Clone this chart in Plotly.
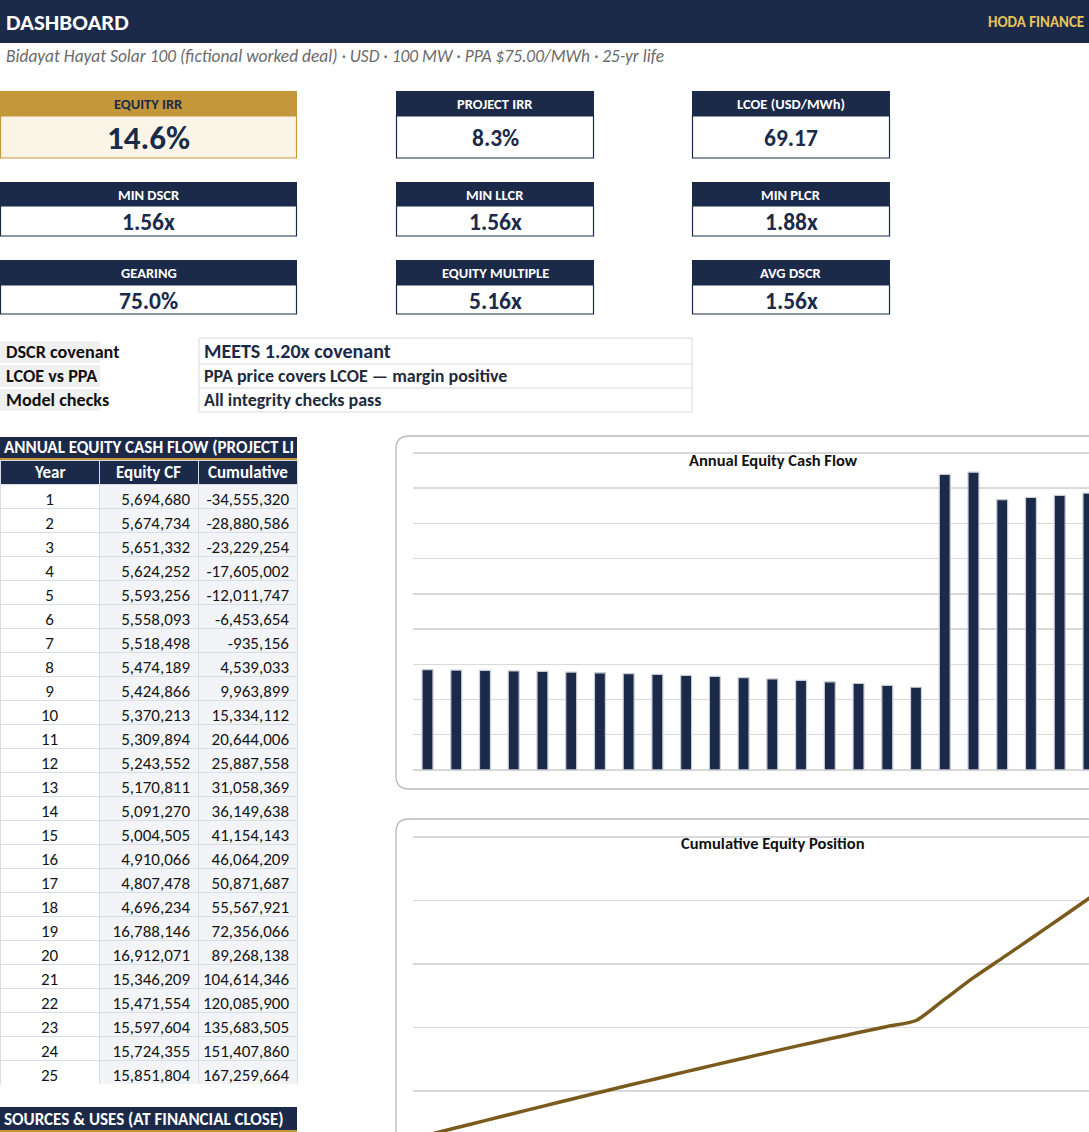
# dashboard recreation: KPI cards, status block, equity cash flow table and two charts

import plotly.graph_objects as go

W, H = 1089, 1132
NAVY = "#1c2a4a"
GOLD = "#c4973b"
GOLD_TEXT = "#e8c35a"
LINE_GOLD = "#7b5b1d"
FONT = "Carlito, Calibri, Roboto, sans-serif"

subtitle = "Bidayat Hayat Solar 100 (fictional worked deal) · USD · 100 MW · PPA $75.00/MWh · 25-yr life"

kpi_labels = ["EQUITY IRR", "PROJECT IRR", "LCOE (USD/MWh)",
              "MIN DSCR", "MIN LLCR", "MIN PLCR",
              "GEARING", "EQUITY MULTIPLE", "AVG DSCR"]
kpi_values = ["14.6%", "8.3%", "69.17",
              "1.56x", "1.56x", "1.88x",
              "75.0%", "5.16x", "1.56x"]

status_labels = ["DSCR covenant", "LCOE vs PPA", "Model checks"]
status_texts = ["MEETS 1.20x covenant",
                "PPA price covers LCOE — margin positive",
                "All integrity checks pass"]

years = list(range(1, 26))
equity_cf = [5694680, 5674734, 5651332, 5624252, 5593256, 5558093, 5518498, 5474189,
             5424866, 5370213, 5309894, 5243552, 5170811, 5091270, 5004505, 4910066,
             4807478, 4696234, 16788146, 16912071, 15346209, 15471554, 15597604,
             15724355, 15851804]
cumulative = [-34555320, -28880586, -23229254, -17605002, -12011747, -6453654, -935156,
              4539033, 9963899, 15334112, 20644006, 25887558, 31058369, 36149638,
              41154143, 46064209, 50871687, 55567921, 72356066, 89268138, 104614346,
              120085900, 135683505, 151407860, 167259664]
table_headers = ["Year", "Equity CF", "Cumulative"]


def px(x):
    return x / W


def py(y):
    return 1 - y / H


shapes = []
annotations = []


def rect(x0, y0, x1, y1, fill, line=None, lw=1):
    shapes.append(dict(type="rect", xref="paper", yref="paper",
                       x0=px(x0), x1=px(x1), y0=py(y1), y1=py(y0),
                       fillcolor=fill, line=dict(color=line or fill, width=lw if line else 0),
                       layer="below"))


def text(x, y, s, size, color, anchor="left", bold=False, italic=False):
    if bold:
        s = f"<b>{s}</b>"
    if italic:
        s = f"<i>{s}</i>"
    annotations.append(dict(x=px(x), y=py(y), xref="paper", yref="paper", text=s,
                            showarrow=False, xanchor=anchor, yanchor="middle",
                            font=dict(family=FONT, size=size, color=color)))


def rounded(x0, y0, x1, y1, r):
    pts = [
        ("M", x0 + r, y0), ("L", x1 - r, y0), ("Q", x1, y0, x1, y0 + r),
        ("L", x1, y1 - r), ("Q", x1, y1, x1 - r, y1), ("L", x0 + r, y1),
        ("Q", x0, y1, x0, y1 - r), ("L", x0, y0 + r), ("Q", x0, y0, x0 + r, y0),
    ]
    out = []
    for p in pts:
        coords = p[1:]
        vals = []
        for i in range(0, len(coords), 2):
            vals.append(f"{px(coords[i]):.5f},{py(coords[i + 1]):.5f}")
        out.append(p[0] + " ".join(vals))
    path = " ".join(out) + " Z"
    shapes.append(dict(type="path", xref="paper", yref="paper", path=path,
                       line=dict(color="#b8b8b8", width=1.3), fillcolor="rgba(0,0,0,0)",
                       layer="below"))


# header band
rect(0, 0, W, 43, NAVY)
text(4, 22, "DASHBOARD", 23, "white", bold=True)
text(1086, 22, "HODA FINANCE", 15, GOLD_TEXT, anchor="right", bold=True)
text(4, 56, subtitle, 17.4, "#6b6b6b", italic=True)

# KPI cards
col_x = [(0, 297), (396, 594), (692, 890)]
row_y = [(91, 116, 158), (182, 206, 236), (260, 285, 314)]
for i, (lab, val) in enumerate(zip(kpi_labels, kpi_values)):
    cx0, cx1 = col_x[i % 3]
    hy0, hy1, vy1 = row_y[i // 3]
    first = i == 0
    rect(cx0, hy0, cx1, hy1, GOLD if first else NAVY)
    rect(cx0 + 0.5, hy1, cx1 - 0.5, vy1, "#fbf5e8" if first else "white",
         line=GOLD if first else NAVY, lw=1.2)
    text((cx0 + cx1) / 2, (hy0 + hy1) / 2 + 0.5, lab, 14.5,
         NAVY if first else "white", anchor="center", bold=True)
    text((cx0 + cx1) / 2, (hy1 + vy1) / 2 + 1, val, 33 if first else 23.5,
         NAVY, anchor="center", bold=True)

# status block
status_y = [340, 364, 388, 412]
rect(199, 338, 692, 412, "white", line="#d9d9d9", lw=1)
for j, (lab, msg) in enumerate(zip(status_labels, status_texts)):
    y0, y1 = status_y[j], status_y[j + 1]
    rect(0, y0 + 1, 100, y1 - 1, "#f0f0f0")
    if j > 0:
        shapes.append(dict(type="line", xref="paper", yref="paper", x0=px(199), x1=px(692),
                           y0=py(y0), y1=py(y0), line=dict(color="#d9d9d9", width=1)))
    text(4, (y0 + y1) / 2, lab, 18.2, "#111111", bold=True)
    text(202, (y0 + y1) / 2 - (1 if j == 0 else 0), msg, 20 if j == 0 else 18,
         NAVY if j == 0 else "#1e2b3c", bold=True)

# table title bars
rect(0, 437, 297, 458, NAVY)
rect(0, 458, 297, 460, GOLD)
text(2, 448, "ANNUAL EQUITY CASH FLOW (PROJECT LI", 17, "white", bold=True)
rect(0, 1107, 297, 1130, NAVY)
rect(0, 1130, 297, 1132, GOLD)
text(2, 1119, "SOURCES &amp; USES (AT FINANCIAL CLOSE)", 17, "white", bold=True)

# table header labels sit centred on the navy header row of the table below
for k, h in enumerate(table_headers):
    text(99 * k + 49.5, 472, h, 17, "white", anchor="center", bold=True)

# chart frames and titles
rounded(396, 436, 1160, 789, 13)
rounded(396, 819, 1160, 1200, 13)
text(773, 460, "Annual Equity Cash Flow", 16.5, "#111111", anchor="center", bold=True)
text(773, 843, "Cumulative Equity Position", 16.5, "#111111", anchor="center", bold=True)

fig = go.Figure()

fig.add_trace(go.Table(
    domain=dict(x=[0, px(297)], y=[py(1084), py(460)]),
    columnwidth=[99, 99, 99],
    header=dict(values=["", "", ""],
                fill_color=NAVY, line=dict(color="#d9dde4", width=1),
                font=dict(family=FONT, size=17, color="white"),
                align="center", height=24),
    cells=dict(values=[years,
                       [f"{v:,}" for v in equity_cf],
                       [f"{v:,}" for v in cumulative]],
               fill_color=[["white"] * 25, ["#f3f4f7"] * 25, ["#f3f4f7"] * 25],
               line=dict(color="#d9dde4", width=1),
               font=dict(family=FONT, size=17, color="#151515"),
               align=["center", "right", "right"], height=24),
))

fig.add_trace(go.Bar(
    x=years, y=equity_cf, width=0.38, xaxis="x", yaxis="y",
    marker=dict(color=NAVY, line=dict(color="#c8ccd4", width=1.2)),
    hoverinfo="x+y",
))

fig.add_trace(go.Scatter(
    x=years, y=cumulative, mode="lines", xaxis="x2", yaxis="y2",
    line=dict(color=LINE_GOLD, width=3.5, shape="spline", smoothing=0.7),
))

x_range = [0.495, 24.02]
fig.update_layout(
    width=W, height=H,
    margin=dict(l=0, r=0, t=0, b=0),
    paper_bgcolor="white", plot_bgcolor="rgba(0,0,0,0)",
    showlegend=False,
    shapes=shapes, annotations=annotations,
    xaxis=dict(domain=[px(413), 1], range=x_range, showgrid=False,
               showticklabels=False, zeroline=False, showline=False),
    yaxis=dict(domain=[py(772.6), py(447.7)], range=[-0.15e6, 18.3e6], tick0=0,
               dtick=2e6, showgrid=True, gridcolor="#d9d9d9", gridwidth=1.5,
               showticklabels=False, zeroline=False),
    xaxis2=dict(domain=[px(413), 1], range=x_range, showgrid=False,
                showticklabels=False, zeroline=False, showline=False, anchor="y2"),
    yaxis2=dict(domain=[0, py(831.9)], range=[-32.2e6, 204e6], tick0=0, dtick=50e6,
                showgrid=True, gridcolor="#d9d9d9", gridwidth=1.5,
                showticklabels=False, zeroline=False, anchor="x2"),
)

# the page body keeps a default margin; drop it so the figure sits at the window corner
fig.write_html("out.html", config={"displayModeBar": False, "staticPlot": True},
               post_script="document.body.style.margin = '0';")
